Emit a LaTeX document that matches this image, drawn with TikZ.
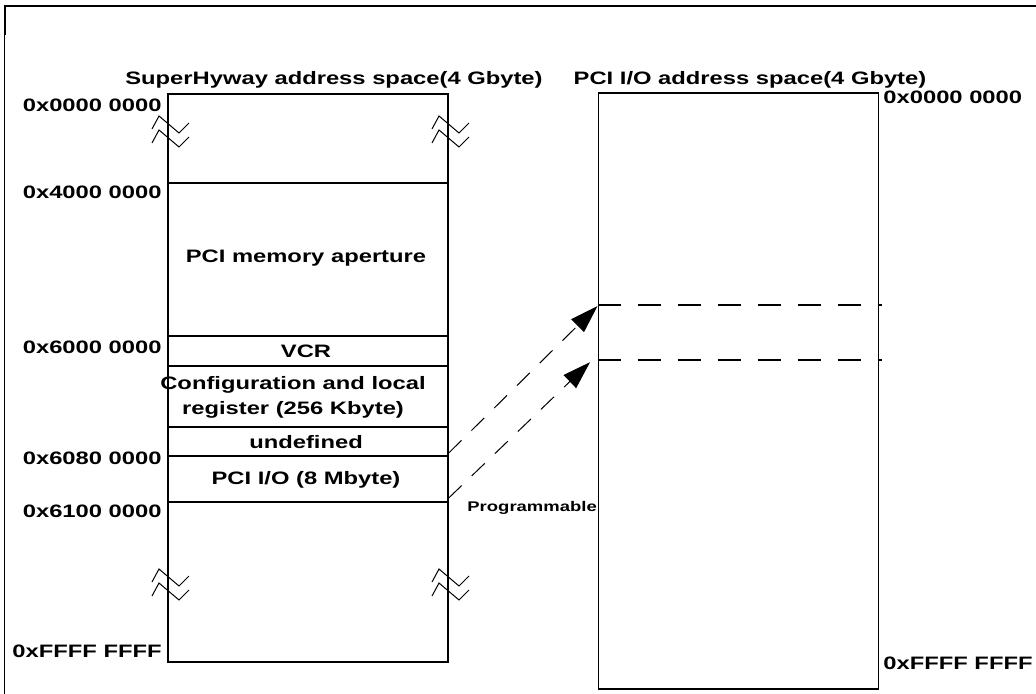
\documentclass[tikz,border=0pt]{standalone}
\usepackage{fontspec}
\setmainfont{Liberation Sans}[FakeStretch=1.32]
\usetikzlibrary{arrows.meta}

\begin{document}
\begin{tikzpicture}[x=0.5pt, y=-0.5pt,
  every node/.style={inner sep=0, font=\fontsize{9}{12.5}\selectfont\bfseries},
  space/.style={draw, line width=0.85pt, minimum width=140pt, anchor=north west},
  sep/.style={line width=0.65pt},
  brk/.style={line width=0.5pt},
  addr/.style={anchor=east},
  ttl/.style={anchor=base},
  arr/.style={-{Triangle[length=14pt, width=9pt]}, line width=0.5pt,
              dash pattern=on 9pt off 7pt},
  win/.style={line width=0.85pt, dash pattern=on 11.5pt off 8.5pt}]
\useasboundingbox (0,0) rectangle (1036,694);
% frame
\draw[line width=1pt] (4,6.5) -- (1036,6.5);
\draw[line width=1pt] (5,6) -- (5,35);
\draw[line width=0.5pt] (4.5,35) -- (4.5,694);
% the two address spaces
\node[space, minimum height=284pt] (shy) at (167,93) {};
\node[space, minimum height=298pt] (pio) at (597.5,92) {};
\node[ttl] (tshy) at (334,85) {SuperHyway address space(4 Gbyte)};
\node[ttl] (tpio) at (750,85) {PCI I/O address space(4 Gbyte)};
\foreach \y in {183,336,366,427,456,502}
  \draw[sep] (shy.west |- 0,\y) -- (shy.east |- 0,\y);
% break marks
\foreach \e in {167,447}
  \foreach \p in {116,130,569,583}
    \draw[brk] ({\e-15},{\p+13}) -- ({\e-8},\p) -- ({\e+12},{\p+17}) -- ({\e+22},{\p+7});
\foreach \t/\y [count=\i] in {0x0000 0000/105, 0x4000 0000/192, 0x6000 0000/347,
                             0x6080 0000/458, 0x6100 0000/511, 0xFFFF FFFF/651}
  \node[addr] (a\i) at (162,\y) {\t};
\node[anchor=west] (b1) at (883,97) {0x0000 0000};
\node[anchor=west] (b2) at (883,663) {0xFFFF FFFF};
% regions
\node (mem) at (306,258) {PCI memory aperture};
\node (vcr) at (306,351) {VCR};
\node[align=center] (cfg) at (293,397) {Configuration and local\\register (256 Kbyte)};
\node (und) at (306,442) {undefined};
\node (io) at (306,480) {PCI I/O (8 Mbyte)};
% window in the PCI I/O space
\foreach \y in {305,360}
  \draw[win, shorten >=-1.5pt] (pio.west |- 0,\y) -- (pio.east |- 0,\y);
\draw[arr] (shy.east |- 0,453) -- (pio.west |- 0,306);
\draw[arr, shorten >=5.2pt] (shy.east |- 0,498) -- (pio.west |- 0,355);
\node[anchor=west, font=\fontsize{7}{8}\selectfont\bfseries] (prog) at (467,508) {Programmable};
\end{tikzpicture}
\end{document}
